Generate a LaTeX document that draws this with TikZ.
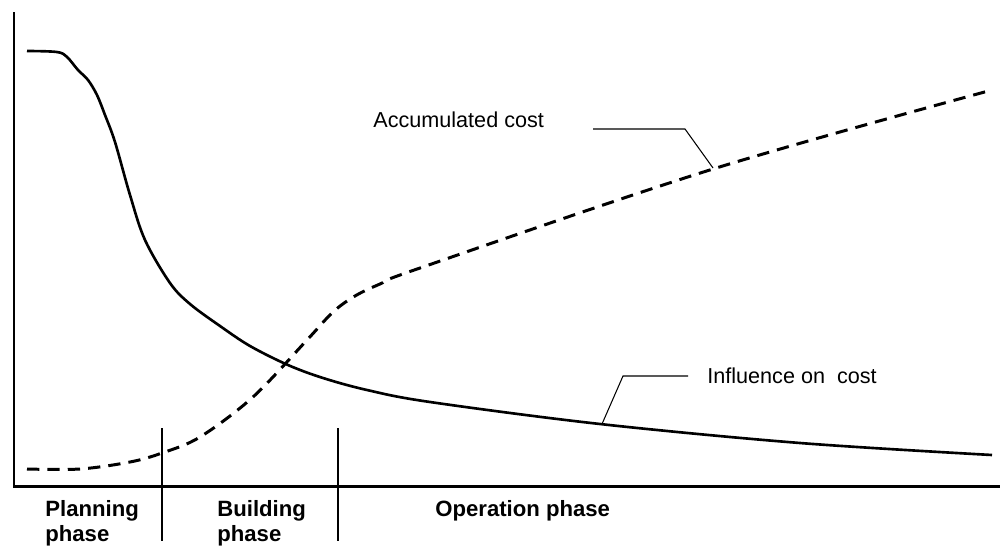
\documentclass[tikz,border=0pt]{standalone}
\usepackage{fontspec}
\setmainfont{Liberation Sans}
\begin{document}
\begin{tikzpicture}[x=0.02cm,y=-0.02cm,
  axis/.style={line width=1.7pt},
  influence/.style={line width=1.5pt,line join=round},
  accum/.style={line width=1.7pt,dash pattern=on 7pt off 4.6pt},
  leader/.style={line width=0.6pt},
  divider/.style={line width=0.6pt},
  curvelabel/.style={font=\fontsize{12.3pt}{14pt}\selectfont,inner sep=0pt},
  phaselabel/.style={font=\bfseries\fontsize{12.6pt}{14.5pt}\selectfont,inner sep=0pt,align=left,anchor=north west}]
\useasboundingbox (0,0) rectangle (1000,548);
% axes
\coordinate (ytop) at (14,12);
\coordinate (origin) at (14,486);
\coordinate (xend) at (1000,486);
\draw[axis] (ytop) -- (origin) -- (xend);
% phase dividers
\coordinate (d1t) at (162,428); \coordinate (d1b) at (162,541);
\coordinate (d2t) at (338,428); \coordinate (d2b) at (338,541);
\draw[divider] (d1t) -- (d1b);
\draw[divider] (d2t) -- (d2b);
% influence on cost (solid)
\draw[influence] plot[smooth,tension=0.55] coordinates {
 (27,51) (57,52) (67,57) (78,70) (88,80) (97,95) (105,115) (115,142)
 (130,195) (145,240) (170,283) (190,304) (220,326) (250,346)
 (288,365) (323,378) (367,390) (430,402) (600,424) (800,443) (992,455)};
% accumulated cost (dashed)
\draw[accum] plot[smooth,tension=0.55] coordinates {
 (27,469) (80,469) (130,462) (162,453) (200,437) (253,397) (307,340)
 (333,312) (355,296) (380,284) (420,268) (713,169) (992,90)};
% labels
\node[curvelabel,anchor=west] (acc) at (373,120) {Accumulated cost};
\node[curvelabel,anchor=west] (inf) at (707,376) {Influence on\ \ cost};
\coordinate (accA) at (593,129); \coordinate (accB) at (685,129); \coordinate (accT) at (713,168);
\draw[leader] (accA) -- (accB) -- (accT);
\coordinate (infA) at (688,376); \coordinate (infB) at (623,376); \coordinate (infT) at (602,424);
\draw[leader] (infA) -- (infB) -- (infT);
\node[phaselabel] (plan) at (45,500) {Planning\\phase};
\node[phaselabel] (build) at (217,500) {Building\\phase};
\node[phaselabel] (oper) at (435,500) {Operation phase};
\end{tikzpicture}
\end{document}
